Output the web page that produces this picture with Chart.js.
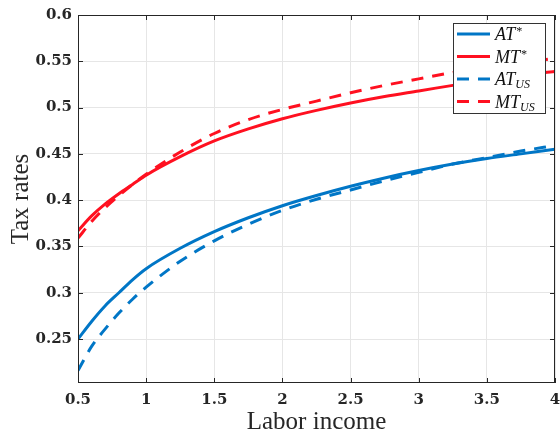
<!DOCTYPE html>
<html>
<head>
<meta charset="utf-8">
<script src="https://cdn.jsdelivr.net/npm/chart.js@4.4.1/dist/chart.umd.min.js"></script>
<style>
  body { margin: 0; background: #fff; }
  canvas { display: block; }
</style>
</head>
<body>
<canvas id="chart" width="560" height="435"></canvas>
<script>
// data
const income = [0.5, 0.6, 0.7, 0.8, 0.9, 1, 1.25, 1.5, 1.75, 2, 2.25, 2.5, 2.75, 3, 3.25, 3.5, 3.75, 4]
const atStar = [0.250, 0.269, 0.286, 0.300, 0.314, 0.326, 0.348, 0.366, 0.381, 0.394, 0.405, 0.415, 0.424, 0.432, 0.439, 0.445, 0.450, 0.455]
const mtStar = [0.367, 0.383, 0.396, 0.407, 0.417, 0.427, 0.447, 0.464, 0.477, 0.488, 0.497, 0.505, 0.512, 0.518, 0.524, 0.530, 0.535, 0.539]
const atUS = [0.216, 0.242, 0.261, 0.278, 0.293, 0.306, 0.334, 0.356, 0.374, 0.389, 0.401, 0.411, 0.421, 0.430, 0.439, 0.446, 0.453, 0.459]
const mtUS = [0.359, 0.377, 0.392, 0.405, 0.417, 0.428, 0.452, 0.472, 0.487, 0.498, 0.507, 0.516, 0.524, 0.531, 0.538, 0.544, 0.549, 0.553]
const xTicks = [0.5, 1, 1.5, 2, 2.5, 3, 3.5, 4]
const yTicks = [0.25, 0.3, 0.35, 0.4, 0.45, 0.5, 0.55, 0.6]

const blue = 'rgb(0,118,198)'
const red = 'rgb(255,16,32)'
const dash = [12, 9]

const pts = arr => arr.map((v, i) => ({ x: income[i], y: v }))

// legend entries: main text + superscript / subscript
const legendItems = [
  { main: 'AT', sup: '*', color: blue, dashed: false },
  { main: 'MT', sup: '*', color: red, dashed: false },
  { main: 'AT', sub: 'US', color: blue, dashed: true },
  { main: 'MT', sub: 'US', color: red, dashed: true },
]

const frameAndLegend = {
  id: 'frameAndLegend',
  afterDatasetsDraw(chart) {
    const { ctx, chartArea: a, scales } = chart
    ctx.save()
    ctx.strokeStyle = '#262626'
    ctx.lineWidth = 1
    ctx.strokeRect(a.left + 0.5, a.top + 0.5, a.right - a.left - 1, a.bottom - a.top - 1)
    ctx.beginPath()
    xTicks.forEach(v => {
      const px = Math.round(scales.x.getPixelForValue(v)) + 0.5
      ctx.moveTo(px, a.bottom); ctx.lineTo(px, a.bottom - 5)
      ctx.moveTo(px, a.top); ctx.lineTo(px, a.top + 5)
    })
    yTicks.forEach(v => {
      const py = Math.round(scales.y.getPixelForValue(v)) + 0.5
      ctx.moveTo(a.left, py); ctx.lineTo(a.left + 5, py)
      ctx.moveTo(a.right, py); ctx.lineTo(a.right - 5, py)
    })
    ctx.stroke()
    ctx.restore()
  },
  afterDraw(chart) {
    const ctx = chart.ctx
    const bx = 453, by = 23, bw = 92, bh = 90
    ctx.save()
    ctx.fillStyle = '#fff'
    ctx.fillRect(bx, by, bw, bh)
    ctx.strokeStyle = '#333'
    ctx.lineWidth = 1
    ctx.strokeRect(bx + 0.5, by + 0.5, bw, bh)
    legendItems.forEach((it, i) => {
      const cy = 34 + i * 22.5
      ctx.beginPath()
      ctx.strokeStyle = it.color
      ctx.lineWidth = 3
      ctx.setLineDash(it.dashed ? [12, 9] : [])
      ctx.moveTo(457, cy); ctx.lineTo(490, cy)
      ctx.stroke()
      ctx.setLineDash([])
      ctx.fillStyle = '#111'
      ctx.textBaseline = 'alphabetic'
      ctx.font = 'italic 18px "Liberation Serif"'
      ctx.fillText(it.main, 495, cy + 6)
      const w = ctx.measureText(it.main).width
      if (it.sup) {
        ctx.font = 'italic 12px "Liberation Serif"'
        ctx.fillText(it.sup, 495 + w + 0.5, cy + 1)
      }
      if (it.sub) {
        ctx.font = 'italic 12px "Liberation Serif"'
        ctx.fillText(it.sub, 495 + w, cy + 9)
      }
    })
    ctx.restore()
  }
}

new Chart(document.getElementById('chart'), {
  type: 'line',
  data: {
    datasets: [
      { label: 'AT*', data: pts(atStar), borderColor: blue, order: 1 },
      { label: 'MT*', data: pts(mtStar), borderColor: red, order: 1 },
      { label: 'AT_US', data: pts(atUS), borderColor: blue, borderDash: dash, order: 0 },
      { label: 'MT_US', data: pts(mtUS), borderColor: red, borderDash: dash, order: 0 },
    ]
  },
  options: {
    responsive: false,
    animation: false,
    devicePixelRatio: 1,
    layout: { padding: { top: 15, right: 5, left: 0, bottom: 0 } },
    elements: {
      line: { borderWidth: 3, cubicInterpolationMode: 'monotone', fill: false },
      point: { radius: 0 }
    },
    plugins: { legend: { display: false }, tooltip: { enabled: false } },
    scales: {
      x: {
        type: 'linear',
        min: 0.5,
        max: 4,
        afterBuildTicks: s => { s.ticks = xTicks.map(v => ({ value: v })) },
        afterFit: s => { s.height = 52; s.paddingLeft = 0; s.paddingRight = 0 },
        grid: { color: '#e6e6e6', drawTicks: false },
        border: { display: false },
        ticks: {
          padding: 8,
          color: '#262626',
          font: { family: '"DejaVu Serif"', size: 15, weight: 'bold' },
          callback: v => String(v)
        },
        title: {
          display: true,
          text: 'Labor income',
          color: '#262626',
          padding: { top: 0, bottom: 0 },
          font: { family: '"Liberation Serif"', size: 25, lineHeight: 1 }
        }
      },
      y: {
        min: 0.2025,
        max: 0.6,
        afterBuildTicks: s => { s.ticks = yTicks.map(v => ({ value: v })) },
        afterFit: s => { s.width = 78; s.paddingTop = 0; s.paddingBottom = 0 },
        grid: { color: '#e6e6e6', drawTicks: false },
        border: { display: false },
        ticks: {
          padding: 6,
          color: '#262626',
          font: { family: '"DejaVu Serif"', size: 15, weight: 'bold' },
          callback: v => String(v)
        },
        title: {
          display: true,
          text: 'Tax rates',
          color: '#262626',
          padding: { top: 9, bottom: 0 },
          font: { family: '"Liberation Serif"', size: 25, lineHeight: 1 }
        }
      }
    }
  },
  plugins: [frameAndLegend]
})
</script>
</body>
</html>
